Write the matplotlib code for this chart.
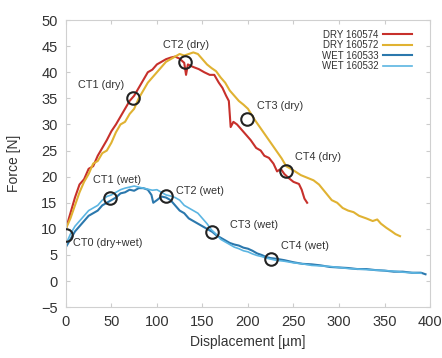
import matplotlib.pyplot as plt
import numpy as np

plt.rcParams['font.family'] = ['Liberation Sans', 'DejaVu Sans']

# DRY 160574 (red)
dry4_x = [0, 5, 10, 15, 20, 25, 30, 35, 40, 45, 50, 55, 60, 65, 70, 75, 80, 85, 90, 95,
          100, 105, 110, 115, 120, 125, 130, 132, 134, 140, 146, 152, 158, 163, 168, 172,
          176, 179, 181, 184, 188, 193, 198, 203, 209, 214, 218, 223, 228, 232, 236, 240,
          245, 250, 256, 259, 262, 265]
dry4_y = [10, 13, 16, 18.5, 19.5, 21.5, 22, 24, 25.5, 27, 28.7, 30, 31.5, 33, 34.5, 35.5,
          37, 38.5, 40, 40.5, 41.5, 42, 42.5, 42.8, 43, 42.6, 41.8, 39.5, 41.5, 41, 40.6,
          40, 39.5, 39.5, 38, 37, 35.5, 34.5, 29.5, 30.5, 30, 29, 28, 27, 25.5, 25, 24,
          23.6, 22.5, 21, 21.5, 20.5, 19.7, 19, 18.6, 17.5, 15.8, 15]

# DRY 160572 (yellow)
dry2_x = [0, 5, 10, 15, 20, 25, 30, 35, 40, 45, 50, 55, 60, 65, 70, 75, 80, 85, 90, 95,
          100, 105, 110, 115, 120, 125, 130, 135, 140, 145, 150, 155, 160, 165, 170, 175,
          180, 185, 190, 195, 200, 207, 215, 223, 231, 237, 242, 250, 258, 265, 272, 278,
          285, 292, 298, 304, 310, 316, 322, 330, 337, 342, 346, 352, 358, 362, 367]
dry2_y = [10, 12, 14.5, 17, 19, 20.5, 22.5, 23, 24.5, 25, 26.5, 28.5, 30, 30.5, 32, 33,
          35, 36.5, 38, 39, 40, 41, 42, 42.5, 43, 43.5, 43.2, 43.5, 43.8, 43.5, 42.5,
          41.5, 40.8, 40.2, 39, 38, 36.5, 35.5, 34.5, 33.8, 33, 31, 29, 27, 25, 23.5,
          22, 21.2, 20.3, 19.8, 19.3, 18.5, 17, 15.5, 15, 14, 13.5, 13.2, 12.5, 12,
          11.5, 11.8, 11, 10.2, 9.5, 9, 8.6]

# WET 160533 (dark blue)
wet33_x = [0, 5, 10, 15, 20, 25, 30, 35, 40, 45, 50, 55, 60, 65, 70, 75, 80, 85, 90, 94,
           96, 100, 105, 110, 115, 120, 125, 130, 135, 140, 145, 150, 155, 161, 165, 170,
           175, 180, 185, 190, 195, 200, 205, 210, 215, 220, 225, 230, 240, 250, 260, 270,
           280, 290, 300, 310, 320, 330, 340, 350, 360, 370, 380, 390, 395]
wet33_y = [6.5, 8, 9.5, 10.5, 11.5, 12.5, 13, 13.5, 14.5, 15, 15.5, 16, 16.8, 17, 17.5,
           17.3, 17.8, 17.8, 17.5, 16.5, 15, 15.5, 16.2, 16, 15.5, 14.5, 13.5, 13, 12,
           11.5, 11, 10.5, 10, 9.4, 8.8, 8.3, 7.8, 7.3, 7, 6.8, 6.4, 6.2, 5.8, 5.3, 5,
           4.6, 4.4, 4.3, 4.0, 3.6, 3.3, 3.2, 3.0, 2.7, 2.6, 2.5, 2.3, 2.3, 2.1, 2.0,
           1.8, 1.8, 1.6, 1.6, 1.3]

# WET 160532 (light blue)
wet32_x = [0, 5, 10, 15, 20, 25, 30, 35, 40, 45, 50, 55, 60, 65, 70, 75, 80, 85, 90, 95,
           100, 105, 110, 115, 120, 125, 130, 135, 140, 145, 150, 155, 160, 165, 170, 175,
           180, 185, 190, 195, 200, 205, 210, 215, 220, 225, 230, 240, 250, 260, 270, 280,
           290, 300, 310, 320, 330, 340, 350, 360, 370, 380, 390]
wet32_y = [7, 9, 10.5, 11.5, 12.5, 13.5, 14, 14.5, 15.5, 16.2, 16.5, 17, 17.5, 17.8, 18,
           18.2, 18, 17.8, 17.6, 17.4, 17.5, 17, 16.5, 16.3, 16, 15.5, 14.5, 14, 13.5,
           13, 12, 11, 9.8, 9.0, 8.0, 7.5, 7.0, 6.5, 6.2, 5.8, 5.6, 5.2, 4.9, 4.7, 4.4,
           4.2, 4.0, 3.8, 3.5, 3.3, 3.0, 2.9, 2.8, 2.6, 2.4, 2.3, 2.2, 2.1, 2.0, 1.9,
           1.7, 1.6, 1.5]

# contact points
ct_x = [0, 74, 131, 199, 242, 49, 110, 161, 225]
ct_y = [8.8, 35, 42, 31, 21.1, 16, 16.2, 9.4, 4.2]

# labels: text, x, y
lbl_text = ["CT0 (dry+wet)", "CT1 (dry)", "CT2 (dry)", "CT3 (dry)", "CT4 (dry)",
            "CT1 (wet)", "CT2 (wet)", "CT3 (wet)", "CT4 (wet)"]
lbl_x = [7.7, 13, 107, 210, 252, 30, 121, 180, 236]
lbl_y = [7.3, 37.5, 45.2, 33.5, 23.8, 19.3, 17.2, 10.7, 6.7]

fig = plt.figure(figsize=(4.42, 3.58), dpi=100)
ax = fig.add_axes([0.149, 0.142, 0.824, 0.802])

ax.plot(dry4_x, dry4_y, color='#c7302b', lw=1.5, label='DRY 160574')
ax.plot(dry2_x, dry2_y, color='#e0b232', lw=1.5, label='DRY 160572')
ax.plot(wet33_x, wet33_y, color='#2b78ad', lw=1.5, label='WET 160533')
ax.plot(wet32_x, wet32_y, color='#5bb5e2', lw=1.2, label='WET 160532')

ax.plot(ct_x, ct_y, 'o', mfc='none', mec='#222222', ms=9, mew=1.5, zorder=5)

for t, x, y in zip(lbl_text, lbl_x, lbl_y):
    ax.text(x, y, t, fontsize=7.8, color='#333333', va='center', ha='left')

ax.set_xlim(0, 400)
ax.set_ylim(-5, 50)
ax.set_xticks(np.arange(0, 401, 50))
ax.set_yticks(np.arange(-5, 51, 5))
ax.tick_params(direction='in', top=True, right=True, length=3, color='#cccccc',
               labelsize=10.5, labelcolor='#333333', pad=6)
for s in ax.spines.values():
    s.set_color('#d0d0d0')
    s.set_linewidth(0.8)

ax.set_xlabel('Displacement [µm]', fontsize=10, color='#333333')
ax.set_ylabel('Force [N]', fontsize=10, color='#333333', labelpad=14)

ax.legend(loc='upper right', frameon=False, markerfirst=False, fontsize=7,
          handlelength=3, labelspacing=0.05, borderaxespad=0.3, handletextpad=0.5,
          bbox_to_anchor=(0.97, 0.99), labelcolor='#333333')

fig.savefig('out.png', dpi=100)
